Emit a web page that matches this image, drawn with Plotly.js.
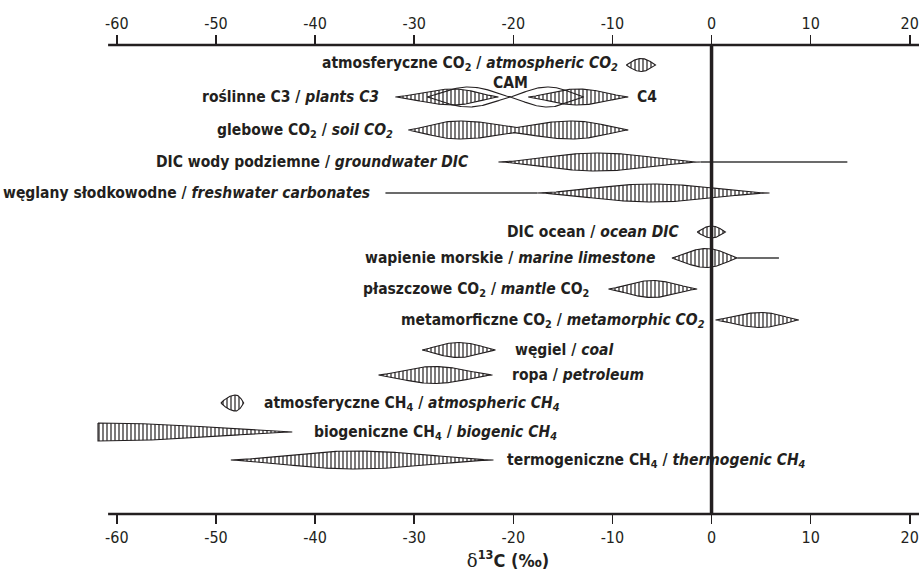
<!DOCTYPE html>
<html>
<head>
<meta charset="utf-8">
<script src="https://cdn.plot.ly/plotly-3.0.1.min.js"></script>
<style>html,body{margin:0;padding:0;background:#fff;}#chart{width:919px;height:580px;}</style>
</head>
<body>
<div id="chart"></div>
<script>
// ---------------- DATA (δ13C, ‰) ----------------
// rows (isotope reservoirs), top to bottom
const LABELS = [
  '<b>atmosferyczne CO<sub>2</sub> / <i>atmospheric CO<sub>2</sub></i></b>',
  '<b>roślinne C3 / <i>plants C3</i></b>',
  '<b>glebowe CO<sub>2</sub> / <i>soil CO<sub>2</sub></i></b>',
  '<b>DIC wody podziemne / <i>groundwater DIC</i></b>',
  '<b>węglany słodkowodne / <i>freshwater carbonates</i></b>',
  '<b>DIC ocean / <i>ocean DIC</i></b>',
  '<b>wapienie morskie / <i>marine limestone</i></b>',
  '<b>płaszczowe CO<sub>2</sub> / <i>mantle</i> CO<sub>2</sub></b>',
  '<b>metamorficzne CO<sub>2</sub> / <i>metamorphic CO<sub>2</sub></i></b>',
  '<b>węgiel / <i>coal</i></b>',
  '<b>ropa / <i>petroleum</i></b>',
  '<b>atmosferyczne CH<sub>4</sub> / <i>atmospheric CH<sub>4</sub></i></b>',
  '<b>biogeniczne CH<sub>4</sub> / <i>biogenic CH<sub>4</sub></i></b>',
  '<b>termogeniczne CH<sub>4</sub> / <i>thermogenic CH<sub>4</sub></i></b>'
];

// distributions (lenses); lenses sharing a SHAPE id are merged into one outline
const DIST_NAME  = ['atm CO2','C3','C4','CAM a','CAM b','soil a','soil b','groundwater DIC','freshwater carb.','ocean DIC','marine limestone','mantle CO2','metamorphic CO2','coal','petroleum','atm CH4','biogenic CH4','thermogenic CH4'];
const DIST_ROW   = [0, 1, 1, 1, 1, 2, 2, 3, 4, 5, 6, 7, 8, 9, 10, 11, 12, 13];
const DIST_SHAPE = [0, 1, 2, 3, 3, 4, 4, 5, 6, 7, 8, 9, 10, 11, 12, 13, 14, 15];
const DIST_MIN   = [-8.6, -31.9, -18.5, -28.7, -20.3, -30.6, -21.5, -21.5, -17.6, -1.45, -4.0, -10.4, 0.4, -29.2, -33.6, -49.5, -61.9, -48.5];
const DIST_MODE  = [-7.1, -26.0, -13.5, -24.5, -16.5, -25.5, -14.0, -11.5, -6.0, 0.0, -0.5, -6.0, 5.0, -25.5, -28.0, -48.0, -61.9, -36.0];
const DIST_MAX   = [-5.65, -21.5, -8.4, -20.3, -12.9, -18.0, -8.4, -1.1, 5.85, 1.4, 2.6, -1.45, 8.8, -21.8, -22.1, -47.2, -42.3, -22.0];

// extreme values drawn as thin lines
const TAIL_ROW  = [3, 4, 6];
const TAIL_FROM = [-1.1, -32.9, 2.6];
const TAIL_TO   = [13.7, -17.6, 6.8];

// axis ticks
const TICKS = [-60, -50, -40, -30, -20, -10, 0, 10, 20];

// ---------------- LAYOUT / STYLE ----------------
const INK = '#231f20';
const FONT = 'Liberation Sans Narrow, DejaVu Sans Condensed, Arial Narrow, sans-serif';
const LABEL_SIZE = 15.5;
const X_RANGE = [-62.0, 20.93];       // drawing area
const AXIS_SPAN = [-60.88, 20.93];    // extent of the drawn axis lines
const PLOT_H = 469;                   // plot-area height in px units
const ROW_Y  = [20, 52, 85, 117, 148, 187, 213, 244, 275, 305, 330, 358, 387, 415];
const DIST_HALF = [6.5, 8, 8, 10, 10, 9, 9, 9, 9, 6, 9.5, 8.5, 7.5, 7.5, 8.5, 8, 9, 9];
const DIST_POW  = [1.0, 1.4, 1.4, 1.2, 1.2, 1.3, 1.3, 1.6, 1.6, 1.0, 1.2, 1.4, 1.3, 1.2, 1.4, 0.9, 1.3, 1.5];
const SHAPE_HATCH = [true, true, true, false, true, true, true, true, true, true, true, true, true, true, true, true];
const LABEL_SIDE = ['L','L','L','L','L','L','L','L','L','R','R','R','R','R'];
const LABEL_GAP  = [6, 14, 13, 27, 13, 15, 15, 17, 9, 18, 18, 18, 20, 12];
const LABEL_DY   = [1, 0, -1, 0, 0, 0, 0, -1, -1, 0, 0, -1, -1, -1];

function halfAt(i, x) {
  const a = DIST_MIN[i], m = DIST_MODE[i], b = DIST_MAX[i];
  if (x < a - 1e-9 || x > b + 1e-9) return 0;
  let t;
  if (x <= m) t = (m === a) ? 1 : (x - a) / (m - a);
  else t = (b === m) ? 1 : (b - x) / (b - m);
  t = Math.max(0, Math.min(1, t));
  return DIST_HALF[i] * Math.pow(Math.sin(Math.PI / 2 * t), DIST_POW[i]);
}

const traces = [];
const nShapes = Math.max(...DIST_SHAPE) + 1;
for (let s = 0; s < nShapes; s++) {
  const idx = DIST_SHAPE.map((v, i) => v === s ? i : -1).filter(i => i >= 0);
  const row = DIST_ROW[idx[0]];
  const yc = ROW_Y[row];
  const lo = Math.min(...idx.map(i => DIST_MIN[i]));
  const hi = Math.max(...idx.map(i => DIST_MAX[i]));
  const N = 160;
  const xs = [], hs = [];
  for (let k = 0; k <= N; k++) {
    const x = lo + (hi - lo) * k / N;
    xs.push(x);
    hs.push(Math.max(...idx.map(i => halfAt(i, x))));
  }
  const px = xs.concat(xs.slice().reverse());
  const py = xs.map((x, k) => yc - hs[k]).concat(xs.map((x, k) => yc + hs[k]).reverse());
  px.push(px[0]); py.push(py[0]);
  const tr = {
    type: 'scatter', mode: 'lines', x: px, y: py,
    line: {color: INK, width: 1.1}, hoverinfo: 'skip', showlegend: false,
    name: DIST_NAME[idx[0]]
  };
  if (SHAPE_HATCH[s]) {
    tr.fill = 'toself';
    tr.fillcolor = 'white';
    tr.fillpattern = {shape: '|', size: 4, solidity: 0.3, fgcolor: INK, bgcolor: 'white'};
  }
  traces.push(tr);
}
// CAM outline on top of C3/C4
const camTrace = traces.splice(3, 1)[0];
traces.push(camTrace);

// tails
TAIL_ROW.forEach((r, j) => {
  traces.push({
    type: 'scatter', mode: 'lines', xaxis: 'x2',
    x: [TAIL_FROM[j], TAIL_TO[j]], y: [ROW_Y[r], ROW_Y[r]],
    line: {color: '#3a3a3a', width: 1.4}, hoverinfo: 'skip', showlegend: false
  });
});

// labels
const annotations = LABELS.map((txt, r) => {
  const dmin = Math.min(...DIST_ROW.map((rr, i) => rr === r ? DIST_MIN[i] : Infinity), ...TAIL_ROW.map((rr, j) => rr === r ? TAIL_FROM[j] : Infinity));
  const dmax = Math.max(...DIST_ROW.map((rr, i) => rr === r ? DIST_MAX[i] : -Infinity), ...TAIL_ROW.map((rr, j) => rr === r ? TAIL_TO[j] : -Infinity));
  const left = LABEL_SIDE[r] === 'L';
  return {
    x: left ? dmin : dmax, y: ROW_Y[r], xref: 'x', yref: 'y',
    text: txt, showarrow: false, xanchor: left ? 'right' : 'left', yanchor: 'middle',
    xshift: left ? -LABEL_GAP[r] : LABEL_GAP[r], yshift: LABEL_DY[r],
    font: {family: FONT, size: LABEL_SIZE, color: INK}
  };
});
// C4 and CAM labels
const c4 = DIST_NAME.indexOf('C4');
annotations.push({x: DIST_MAX[c4], y: ROW_Y[1], xref: 'x', yref: 'y', text: '<b>C4</b>', showarrow: false,
  xanchor: 'left', yanchor: 'middle', xshift: 7, yshift: 0, font: {family: FONT, size: LABEL_SIZE, color: INK}});
const camB = DIST_NAME.indexOf('CAM b');
annotations.push({x: DIST_MIN[camB], y: ROW_Y[1], xref: 'x', yref: 'y', text: '<b>CAM</b>', showarrow: false,
  xanchor: 'center', yanchor: 'middle', yshift: 14, borderpad: 0, font: {family: FONT, size: LABEL_SIZE, color: INK}});

const axisStyle = {
  range: X_RANGE, tickmode: 'array', tickvals: TICKS, ticktext: TICKS.map(String),
  ticks: 'outside', ticklen: 9, tickwidth: 1.5, tickcolor: INK,
  showline: false, showgrid: false, zeroline: false,
  tickfont: {family: FONT, size: 16, color: INK}, fixedrange: true
};

const layout = {
  width: 919, height: 580,
  margin: {l: 97, r: 0, t: 45, b: 66, pad: 0},
  paper_bgcolor: 'white', plot_bgcolor: 'white',
  showlegend: false,
  xaxis: Object.assign({}, axisStyle, {
    side: 'bottom',
    title: {text: '<span style="font-family:DejaVu Serif;font-weight:normal">δ</span><b><sup>13</sup>C (‰)</b>',
            font: {family: FONT, size: 18, color: INK}, standoff: 6}
  }),
  xaxis2: Object.assign({}, axisStyle, {side: 'top', overlaying: 'x', matches: 'x', anchor: 'y'}),
  yaxis: {range: [PLOT_H, 0], visible: false, fixedrange: true},
  shapes: [
    {type: 'line', xref: 'x', yref: 'paper', x0: 0, x1: 0, y0: 0, y1: 1,
     line: {color: INK, width: 3.5}, layer: 'above'},
    {type: 'line', xref: 'x', yref: 'paper', x0: AXIS_SPAN[0], x1: AXIS_SPAN[1], y0: 0, y1: 0,
     line: {color: INK, width: 2.5}, layer: 'above'},
    {type: 'line', xref: 'x', yref: 'paper', x0: AXIS_SPAN[0], x1: AXIS_SPAN[1], y0: 1, y1: 1,
     line: {color: INK, width: 2.5}, layer: 'above'}
  ],
  annotations: annotations
};

Plotly.newPlot('chart', traces, layout, {displayModeBar: false, staticPlot: true});
</script>
</body>
</html>
